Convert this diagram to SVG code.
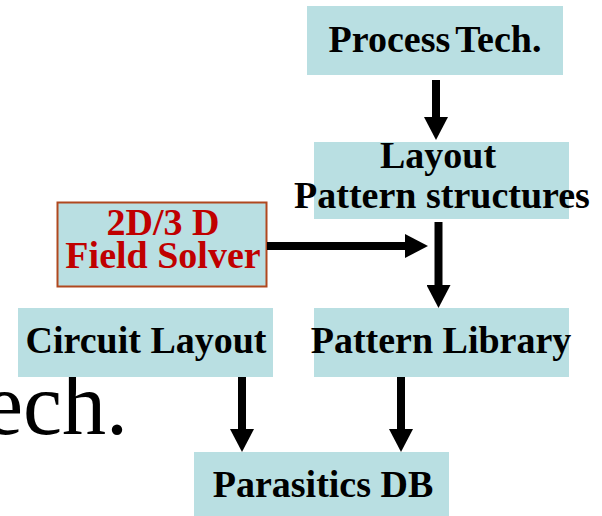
<svg xmlns="http://www.w3.org/2000/svg" width="602" height="516" viewBox="0 0 602 516">
<style>
.box{fill:#b9dfe2;}
.lbl{font-family:"Liberation Serif","Times New Roman",serif;font-weight:bold;font-size:38px;fill:#000;text-anchor:middle;}
.red{fill:#c00000;}
.conn{stroke:#000;stroke-width:8;fill:none;marker-end:url(#ah);}
</style>
<defs>
<marker id="ah" markerUnits="userSpaceOnUse" markerWidth="23" markerHeight="24" viewBox="0 0 23 24" refX="0" refY="12" orient="auto">
<path d="M0,0 L23,12 L0,24 z" fill="#000"/>
</marker>
</defs>
<rect width="602" height="516" fill="#fff"/>
<text x="128" y="434" text-anchor="end" font-family="Liberation Serif, serif" font-size="88">Tech.</text>
<g id="process-tech">
<rect class="box" x="307" y="6" width="256" height="69"/>
<text class="lbl" x="435" y="52">Process<tspan dx="5">Tech.</tspan></text>
</g>
<g id="layout-pattern">
<rect class="box" x="314" y="142" width="255" height="77"/>
<text class="lbl" x="438" y="168">Layout</text>
<text class="lbl" x="442" y="208">Pattern structures</text>
</g>
<g id="field-solver">
<rect class="box" x="57.5" y="202.5" width="209" height="84" stroke="#b0481f" stroke-width="2"/>
<text class="lbl red" x="163" y="235">2D/3 D</text>
<text class="lbl red" x="163" y="268">Field Solver</text>
</g>
<g id="circuit-layout">
<rect class="box" x="18" y="308" width="255" height="69"/>
<text class="lbl" x="146" y="353">Circuit Layout</text>
</g>
<g id="pattern-library">
<rect class="box" x="314" y="308" width="255" height="69"/>
<text class="lbl" x="441" y="353">Pattern Library</text>
</g>
<g id="parasitics-db">
<rect class="box" x="194" y="452" width="255" height="64"/>
<text class="lbl" x="323" y="497">Parasitics DB</text>
</g>
<g id="connectors">
<line class="conn" x1="436" y1="80" x2="436" y2="117"/>
<line class="conn" x1="267" y1="246" x2="405" y2="246"/>
<line class="conn" x1="438.5" y1="222" x2="438.5" y2="285"/>
<line class="conn" x1="242" y1="377" x2="242" y2="429"/>
<line class="conn" x1="401" y1="377" x2="401" y2="429"/>
</g>
</svg>
